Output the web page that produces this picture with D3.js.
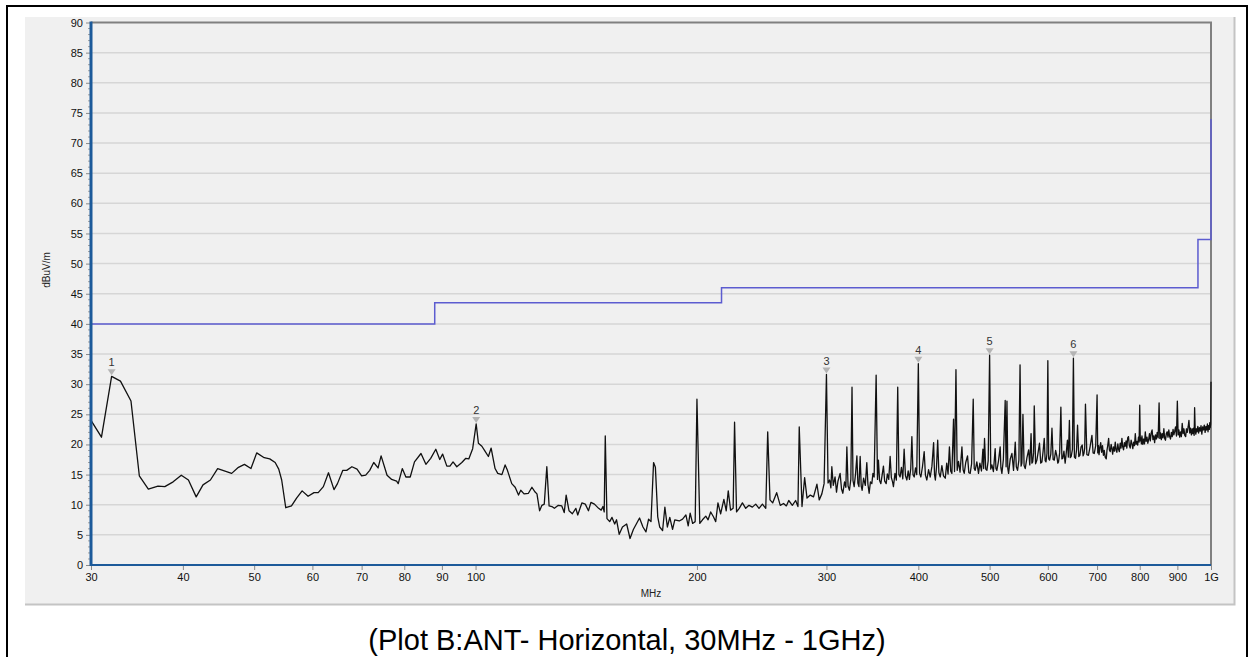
<!DOCTYPE html>
<html>
<head>
<meta charset="utf-8">
<script src="https://cdn.jsdelivr.net/npm/d3@7"></script>
<style>
  body { margin: 0; background: #ffffff; }
  svg text { font-family: "Liberation Sans", Arial, sans-serif; }
</style>
</head>
<body>
<script>

// scan data 30 - 100 MHz, [MHz, dBuV/m]
var traceLow = [[30,24.0],[31.0,21.2],[32.0,31.3],[32.9,30.5],[34.0,27.2],[34.9,14.8],[35.9,12.6],[37.0,13.1],
  [37.8,13.0],[38.8,13.8],[39.8,14.9],[40.7,14.1],[41.7,11.3],[42.6,13.3],[43.6,14.1],[44.6,16.0],[46.6,15.2],
  [47.6,16.2],[48.5,16.7],[49.5,16.0],[50.4,18.6],[51.6,17.8],[52.5,17.6],[53.4,17.0],[54.0,15.9],[54.5,14.1],
  [55.2,9.5],[56.2,9.8],[57.1,11.1],[58.1,12.3],[59.2,11.4],[60.3,12.0],[61.1,12.0],[62.1,13.0],[63.1,15.3],
  [64.2,12.5],[64.9,13.5],[66.0,15.7],[66.8,15.7],[67.9,16.3],[69.0,15.9],[70.0,14.8],[70.9,14.9],[71.8,15.7],
  [72.7,17.0],[73.7,16.1],[74.4,18.1],[75.8,14.9],[76.9,14.2],[78.1,13.9],[78.5,13.5],[79.5,16.0],[80.4,14.6],
  [81.5,14.6],[82.6,17.1],[84.3,18.5],[85.6,16.7],[86.9,17.7],[88.3,19.2],[89.4,17.5],[90.2,18.4],[91.4,16.4],
  [92.3,16.4],[93.2,17.1],[94.3,16.3],[95.8,17.0],[97.0,17.7],[97.9,17.6],[99.1,19.3]];

// scan data 100 - 300 MHz
var traceMid = [[100.2,23.4],[100.9,20.2],[102.0,19.7],[103.0,18.9],[104.1,18.0],[105.0,19.4],[106.3,16.0],
  [107.2,15.2],[108.6,15.0],[109.7,16.6],[110.5,15.7],[112.0,13.5],[113.2,12.9],[114.4,11.6],[115.2,12.4],
  [116.4,11.8],[118.0,11.9],[119.3,12.9],[120.5,12.1],[121.2,11.8],[122.2,9.0],[123.1,9.9],[124.0,10.1],
  [125.0,16.3],[125.9,9.8],[127.0,9.7],[128.0,9.4],[129.6,9.9],[131.0,9.8],[132.0,8.7],[132.8,11.6],[134.0,9.0],
  [135.4,8.5],[136.9,9.4],[137.7,8.3],[139.5,10.3],[141.0,10.1],[142.4,9.0],[143.5,10.4],[145.1,10.1],[147.0,9.4],
  [148.2,9.1],[149.0,9.7],[149.6,8.8],[150.1,21.4],[150.9,7.7],[152.2,7.2],[153.3,7.9],[154.6,6.8],[155.5,7.5],
  [156.8,5.1],[158.4,6.3],[160.5,6.8],[162.2,4.4],[163.9,5.9],[167.1,7.8],[168.9,6.3],[170.5,5.5],[171.9,7.6],
  [173.2,7.2],[174.6,17.0],[175.6,16.2],[176.9,8.0],[178.0,6.3],[179.6,5.7],[180.9,9.6],[182.3,6.3],[183.7,7.9],
  [185.3,5.9],[186.6,7.5],[189.2,7.3],[191.2,7.6],[193.2,8.3],[194.6,6.5],[195.8,8.6],[197.3,6.9],[198.9,7.2],
  [200.0,27.5],[201.8,6.9],[203.5,7.5],[205.6,8.1],[207.1,7.5],[208.8,8.8],[210.6,8.0],[212.1,7.2],[213.6,10.3],
  [215.4,8.5],[217.6,10.9],[219.2,9.0],[220.6,12.3],[222.2,9.1],[224.0,9.4],[225.0,23.7],[226.4,8.8],[228.3,9.4],
  [230.6,10.3],[233.0,9.4],[235.4,9.9],[237.9,9.6],[240.4,10.1],[242.9,9.4],[245.5,10.1],[248.1,9.4],[249.6,22.1],
  [251.4,10.8],[253.5,10.3],[256.7,12.0],[259.6,9.9],[262.3,10.2],[264.6,9.8],[266.6,10.7],[269.6,9.9],[272.4,10.7],
  [274.4,9.7],[275.5,22.9],[277.9,9.7],[280.2,14.5],[282.3,11.1],[285.2,11.6],[288.1,11.3],[291.2,13.4],[293.3,10.8],
  [295.7,11.8],[297.8,13.5]];

// scan data 300 - 700 MHz
var traceHigh = [[300,31.6],[301.5,13.6],[303,14.1],[304.2,12.8],[305.1,16.3],[306.5,13.2],[308.2,14.6],[309.6,12.1],
  [311,13.9],[313.1,15.2],[314.5,12.6],[315.8,11.9],[317.5,13.8],[318.8,12.9],[319.8,19.6],[321,13.1],[322.4,12.4],
  [323.8,14.2],[325,29.5],[326,14.0],[327.2,13.0],[328.6,15.1],[330,18.1],[331,13.6],[332.1,13.0],[333.4,18.0],
  [334.5,13.1],[335.5,12.4],[337,14.4],[338.8,13.2],[340.4,17.0],[341.6,13.4],[342.9,11.9],[344.3,13.8],[345.8,13.5],
  [347,15.2],[348.3,14.6],[350.5,31.5],[352,14.2],[353,17.4],[354.3,14.0],[355.7,13.5],[357.2,15.0],[358.6,16.4],
  [360,13.9],[361.7,13.5],[363,15.1],[364.6,14.2],[366.2,18.0],[367.6,14.5],[369,13.8],[370,13.0],[371.8,15.2],
  [373.4,14.1],[375,29.5],[376.4,15.0],[377.8,14.6],[379.4,16.2],[381,14.3],[382.6,19.2],[384.2,14.8],[385.9,14.1],
  [387.5,15.6],[389,14.2],[390.6,16.0],[392,21.3],[393.4,15.0],[394.9,14.6],[396.5,16.1],[398,15.0],[400,33.4],
  [401.6,15.2],[403.2,14.6],[405.2,16.3],[407.4,18.8],[409,14.9],[410.8,14.1],[413,15.8],[415.2,14.6],[417.4,16.4],
  [419.6,20.3],[420.8,15.0],[421.9,14.1],[423.4,16.2],[425,20.7],[426.6,15.3],[428.4,14.6],[430.6,16.5],[432.8,14.8],
  [435.2,14.4],[437.2,16.9],[439,15.1],[440.9,19.6],[442.6,15.6],[444.3,15.2],[446.6,24.2],[448,15.5],[450,32.4],
  [451.7,15.7],[453.6,17.2],[455.8,15.4],[458.5,19.6],[460.2,15.8],[461.8,15.2],[464,17.0],[466.6,18.1],[468.5,15.3],
  [470.5,15.2],[472.6,16.8],[475,27.5],[476.5,16.0],[477.9,15.7],[480.4,17.1],[482.9,15.2],[485,16.9],[487.4,15.6],
  [489.6,19.2],[490.8,16.0],[492.1,21.0],[494,15.9],[495.8,15.7],[497.8,17.3],[500,34.8],
  [501.8,15.9],[503.6,16.6],[506,15.5],[508.8,19.3],[510,16.0],[511.5,15.7],[514,17.2],[516.8,19.6],[518,16.1],
  [519.6,15.2],[522,17.5],[525,27.3],[526.5,16.3],[527.9,27.2],[529.3,16.0],[530.6,15.2],[533.4,17.6],[536.2,18.5],
  [538.9,15.7],[541.8,20.4],[543.6,16.3],[545.7,15.7],[548,17.4],[550,33.2],[551.8,16.4],[553.2,16.9],[555,25.0],
  [557,16.5],[559,16.0],[562,17.8],[565,19.1],[567,16.6],[569.3,21.8],[570.8,16.9],[572.2,17.1],[573.8,18.6],
  [575,26.4],[577.4,16.8],[579.8,17.4],[582.2,18.8],[584.5,20.2],[586.8,16.9],[589,17.1],[591.2,18.9],[593.3,21.0],
  [595,17.3],[596.5,17.1],[598.4,18.5],[600,33.9],[601.6,17.6],[603.3,17.4],[605.6,18.4],[607.8,22.7],[610,17.5],
  [612.2,17.4],[614.8,19.0],[617.3,18.0],[619,16.9],[620.4,17.1],[622.6,18.6],[625,26.2],[627,17.6],[628.8,17.7],
  [631,18.9],[633.4,16.9],[635.6,18.6],[637.9,20.7],[639.8,17.9],[641.9,24.0],[643.6,17.8],[645.5,18.0],[648,19.2],
  [650,34.3],[652,17.9],[654.3,17.7],[656.4,19.1],[658.5,23.2],[661,18.0],[663.3,18.2],[665.8,19.6],[668.2,19.9],
  [670,18.1],[671.8,18.5],[673.4,19.4],[675,26.7],[678,18.3],[681.3,18.2],[685,19.7],[688.8,21.5],[691.3,18.6],
  [693.9,18.5],[697,19.8]];

// scan data 700 MHz - 1 GHz
var traceTop = [[700,28.2],[701.5,18.6],[703,19.8],[704.3,18.3],[706,19.4],[708,20.3],[710,18.7],[712,19.8],
  [714,18.2],[716,19.0],[718,17.9],[720.4,17.6],[722,19.0],[723.5,19.7],[725.8,21.0],[727.5,19.1],[729.5,18.8],
  [731.5,20.0],[733.3,19.3],[735,18.4],[737,19.6],[739,18.9],[741,20.4],[743,19.0],[744.8,18.7],[747,20.1],
  [748.7,19.2],[750.6,18.8],[752.6,20.2],[754.5,19.4],[756.6,21.0],[758.5,19.6],[760.5,19.1],[762.5,20.3],
  [764.5,19.7],[766.5,20.6],[768.4,19.4],[770.4,21.1],[772.3,21.3],[774.4,19.8],[776.5,19.4],[778.7,20.7],
  [780.8,20.1],[782.9,19.3],[785,20.4],[787,19.8],[789,21.8],[791,20.0],[793,20.5],[795,19.9],[796.8,21.2],
  [798.5,20.4],[800,26.5],[801.4,20.6],[802.8,21.1],[804.2,20.1],[805.6,21.4],[807.8,20.0],[810,20.9],[812,20.1],
  [814.1,22.1],[816.2,20.5],[818.4,21.2],[820.5,20.2],[822.7,20.8],[824.8,21.8],[827,20.6],[829.3,21.9],
  [831.6,22.4],[833.8,20.8],[836,21.4],[838.2,20.3],[840.4,21.6],[842.7,20.9],[845,22.0],[847.5,21.1],[850,26.9],
  [852,21.0],[854,21.9],[856,20.8],[858.3,21.8],[860.5,21.1],[862.8,22.6],[865,21.0],[867.2,20.7],[869.5,21.8],
  [871.8,22.1],[874,21.2],[876.3,22.4],[878.6,21.3],[881,20.9],[883.3,22.0],[885.7,21.3],[888,22.5],[890.3,21.6],
  [892.6,22.2],[894.9,22.9],[897.5,21.4],[900,27.2],[902.2,21.6],[904.4,22.4],[906.7,21.2],[909,22.1],[911.4,21.3],
  [913.8,23.5],[916.3,21.8],[918.8,22.6],[921.2,21.5],[923.7,21.3],[926,22.6],[928.5,22.0],[930.9,22.9],[933.3,24.0],
  [935.6,21.9],[938,22.7],[940.5,21.6],[943,22.6],[945,21.8],[947,22.7],[948.6,21.5],[950,26.1],[951.8,22.3],
  [953.6,21.7],[955.4,22.6],[957.2,22.1],[959.6,23.0],[962,21.9],[964.4,22.8],[966.8,22.2],[969.2,23.1],[971.7,21.7],
  [974.1,22.9],[976.6,22.4],[979.1,23.2],[981.7,22.0],[984.2,23.0],[986.8,22.4],[988.8,23.4],[990.7,22.1],
  [992.7,23.1],[994.7,22.5],[996.2,23.6],[997.5,22.8],[999,23.4],[1000,30.4]];

// limit line (steps)
var limitMHz = [30, 88, 88, 216, 216, 960, 960, 1000, 1000];
var limitDb = [40, 40, 43.5, 43.5, 46, 46, 54, 54, 74];

// peak markers
var markerMHz = [32.0, 100.2, 300, 400, 500, 650];
var markerDb = [31.3, 23.4, 31.6, 33.4, 34.8, 34.3];
var markerNames = ["1", "2", "3", "4", "5", "6"];

// axis ticks
var xTicks = [30, 40, 50, 60, 70, 80, 90, 100, 200, 300, 400, 500, 600, 700, 800, 900, 1000];
var xTickLabels = ["30", "40", "50", "60", "70", "80", "90", "100", "200", "300", "400", "500", "600", "700", "800", "900", "1G"];
var yTicks = d3.range(0, 91, 5);
var yMinorTicks = d3.range(0, 91, 1);

var svg_width = 1250;
var svg_height = 657;

// plot area edges
var plot_left = 91, plot_right = 1211, plot_top = 22.5, plot_bottom = 565;

var svg = d3.select("body")
    .append("svg")
    .attr("width", svg_width)
    .attr("height", svg_height);

// outer frame and grey panel
svg.append("rect")
    .attr("x", 7).attr("y", 6)
    .attr("width", 1240).attr("height", 660)
    .attr("fill", "#ffffff")
    .attr("stroke", "#000000")
    .attr("stroke-width", 2);

svg.append("rect")
    .attr("x", 25).attr("y", 17)
    .attr("width", 1210).attr("height", 588)
    .attr("fill", "#f0f0f0");

svg.append("path")
    .attr("d", "M1234.5,17V604.5H25")
    .attr("fill", "none")
    .attr("stroke", "#c4c4c4")
    .attr("stroke-width", 2);

var x_scale = d3.scaleLog().domain([30, 1000]).range([plot_left, plot_right]);
var y_scale = d3.scaleLinear().domain([0, 90]).range([plot_bottom, plot_top]);

// horizontal grid
svg.append("g")
  .selectAll("line")
  .data(yTicks.filter(function(d) { return d > 0 && d < 90; }))
  .enter()
  .append("line")
    .attr("x1", plot_left).attr("x2", plot_right)
    .attr("y1", function(d) { return y_scale(d); })
    .attr("y2", function(d) { return y_scale(d); })
    .attr("stroke", "#d6d6d6")
    .attr("stroke-width", 1.5);

// top and right border of the plot
svg.append("path")
    .attr("d", "M" + plot_left + "," + plot_top + "H" + plot_right + "V" + plot_bottom)
    .attr("fill", "none")
    .attr("stroke", "#808080")
    .attr("stroke-width", 2);

// limit line
var limitData = limitMHz.map(function(f, i) { return [f, limitDb[i]]; });
var line = d3.line()
    .x(function(d) { return x_scale(d[0]); })
    .y(function(d) { return y_scale(d[1]); });

svg.append("path")
    .datum(limitData)
    .attr("d", line)
    .attr("fill", "none")
    .attr("stroke", "#5c5cd0")
    .attr("stroke-width", 1.5);

// measured trace
var trace = traceLow.concat(traceMid, traceHigh, traceTop);
svg.append("path")
    .datum(trace)
    .attr("d", line)
    .attr("fill", "none")
    .attr("stroke", "#111111")
    .attr("stroke-width", 1.3)
    .attr("stroke-linejoin", "round");

// y axis
var y_axis = d3.axisLeft(y_scale).tickValues(yTicks).tickSize(5).tickPadding(3);
var gy = svg.append("g")
    .attr("transform", "translate(" + plot_left + ",0)")
    .call(y_axis);

svg.append("g")
  .selectAll("line")
  .data(yMinorTicks.filter(function(d) { return d % 5 != 0; }))
  .enter()
  .append("line")
    .attr("x1", plot_left - 3).attr("x2", plot_left)
    .attr("y1", function(d) { return y_scale(d); })
    .attr("y2", function(d) { return y_scale(d); })
    .attr("stroke", "#a0a0a0")
    .attr("stroke-width", 1);

// x axis
var x_axis = d3.axisBottom(x_scale).tickValues(xTicks)
    .tickFormat(function(d, i) { return xTickLabels[i]; })
    .tickSize(5).tickPadding(3);
var gx = svg.append("g")
    .attr("transform", "translate(0," + plot_bottom + ")")
    .call(x_axis);

[gx, gy].forEach(function(g) {
  g.select(".domain").remove();
  g.selectAll(".tick line").attr("stroke", "#8a8a8a");
  g.selectAll(".tick text")
    .attr("fill", "#111111")
    .style("font-size", "11px")
    .style("font-family", "'Liberation Sans', Arial, sans-serif");
});

// blue axis lines
svg.append("line")
    .attr("x1", plot_left).attr("x2", plot_left)
    .attr("y1", plot_top - 1).attr("y2", plot_bottom + 1)
    .attr("stroke", "#1c5a9a")
    .attr("stroke-width", 3);

svg.append("line")
    .attr("x1", plot_left).attr("x2", plot_right)
    .attr("y1", plot_bottom).attr("y2", plot_bottom)
    .attr("stroke", "#1c5a9a")
    .attr("stroke-width", 2);

// axis titles
svg.append("text")
    .attr("x", 651).attr("y", 597)
    .attr("text-anchor", "middle")
    .style("font-size", "10px")
    .attr("fill", "#222222")
    .text("MHz");

svg.append("text")
    .attr("transform", "translate(50,270) rotate(-90)")
    .attr("text-anchor", "middle")
    .style("font-size", "10px")
    .attr("fill", "#222222")
    .text("dBuV/m");

// markers
var markers = markerMHz.map(function(f, i) { return { f: f, v: markerDb[i], name: markerNames[i] }; });

svg.append("g")
  .selectAll("path")
  .data(markers)
  .enter()
  .append("path")
    .attr("d", function(d) {
      var cx = x_scale(d.f), cy = y_scale(d.v) - 1;
      return "M" + (cx - 4) + "," + (cy - 6) + "H" + (cx + 4) + "L" + cx + "," + cy + "Z";
    })
    .attr("fill", "#b4b4b4");

svg.append("g")
  .selectAll("text")
  .data(markers)
  .enter()
  .append("text")
    .attr("x", function(d) { return x_scale(d.f); })
    .attr("y", function(d) { return y_scale(d.v) - 10; })
    .attr("text-anchor", "middle")
    .style("font-size", "11px")
    .attr("fill", "#333333")
    .text(function(d) { return d.name; });

// caption
svg.append("text")
    .attr("x", 627).attr("y", 650)
    .attr("text-anchor", "middle")
    .style("font-size", "29px")
    .attr("fill", "#000000")
    .text("(Plot B:ANT- Horizontal, 30MHz - 1GHz)");

</script>
</body>
</html>
